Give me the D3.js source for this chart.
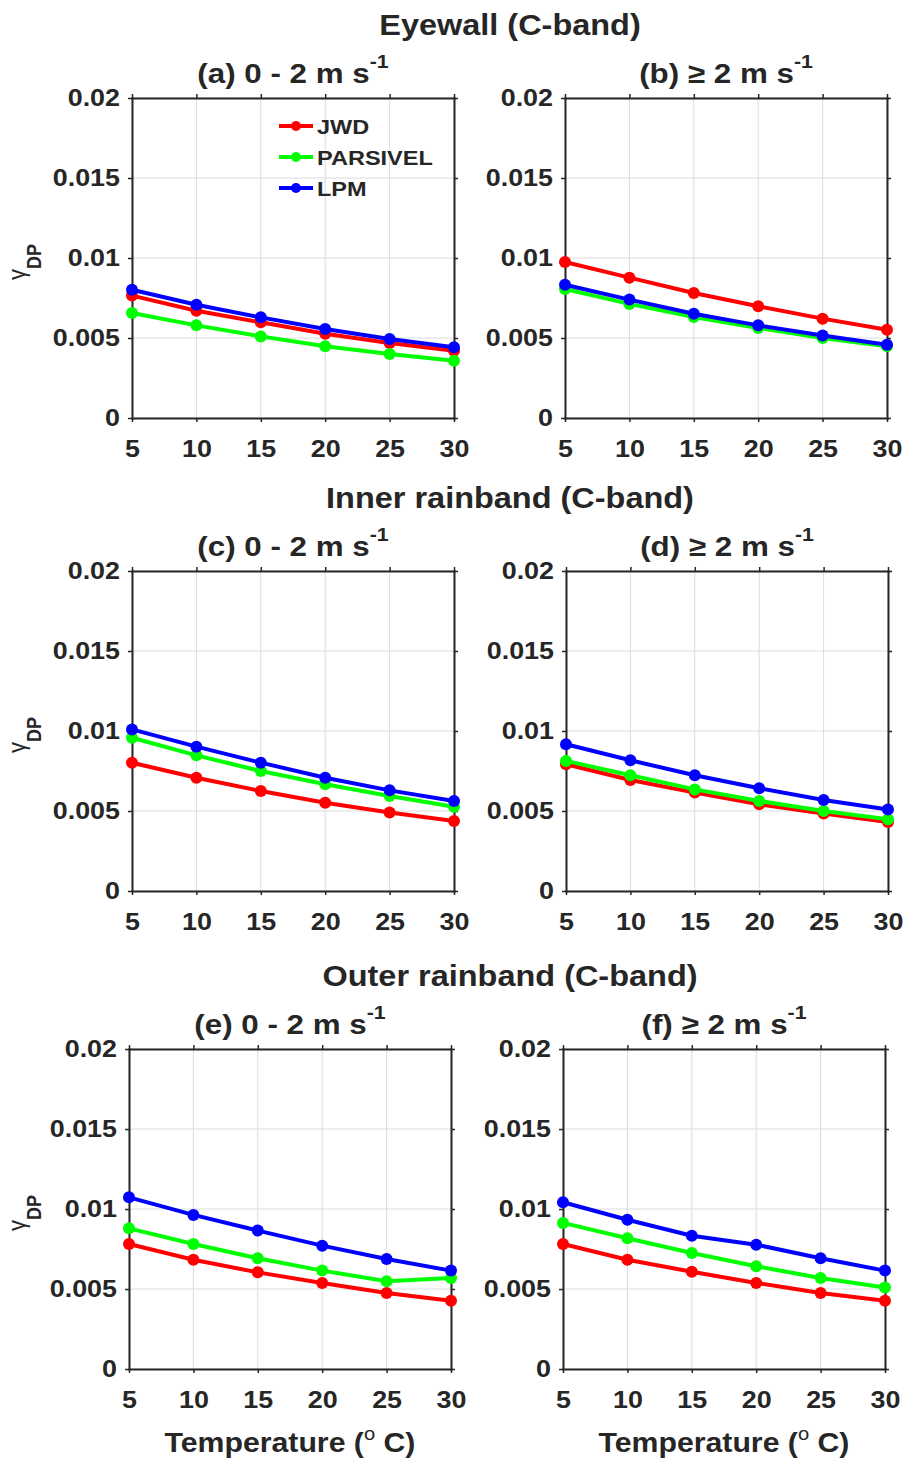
<!DOCTYPE html>
<html lang="en">

<head>
    <meta charset="UTF-8">
    <title>gamma_DP vs temperature</title>
    <script src="https://d3js.org/d3.v7.min.js"></script>
    <style>
        body { margin: 0; background: #fff; }
        svg text { font-family: Arial, "Liberation Sans", sans-serif; fill: #262626; }
    </style>
</head>

<body>
    <div class="canvas"></div>

    <script>
        // x values (temperature, deg C) and y ticks
        const temps = [5, 10, 15, 20, 25, 30];
        const yTicks = [0, 0.005, 0.01, 0.015, 0.02];
        const yTickLabels = ["0", "0.005", "0.01", "0.015", "0.02"];
        const seriesNames = ["JWD", "PARSIVEL", "LPM"];
        const seriesColors = ["#ff0000", "#00ff00", "#0000ff"];
        const rowTitles = ["Eyewall (C-band)", "Inner rainband (C-band)", "Outer rainband (C-band)"];

        // (a) eyewall 0-2 m/s
        const jwdA = [0.00765, 0.0067, 0.00598, 0.00527, 0.00469, 0.0042];
        const parA = [0.00656, 0.00579, 0.0051, 0.00448, 0.004, 0.00358];
        const lpmA = [0.00802, 0.00708, 0.00629, 0.00556, 0.00494, 0.00442];
        // (b) eyewall >= 2 m/s
        const jwdB = [0.00975, 0.00877, 0.00781, 0.00698, 0.00621, 0.00552];
        const parB = [0.00806, 0.00713, 0.00631, 0.00563, 0.005, 0.00448];
        const lpmB = [0.00833, 0.0074, 0.00652, 0.00579, 0.00515, 0.00458];
        // (c) inner rainband 0-2 m/s
        const jwdC = [0.00802, 0.00708, 0.00625, 0.00552, 0.0049, 0.00438];
        const parC = [0.00958, 0.00848, 0.0075, 0.00667, 0.00594, 0.00527];
        const lpmC = [0.0101, 0.00902, 0.00802, 0.00708, 0.00629, 0.00563];
        // (d) inner rainband >= 2 m/s
        const jwdD = [0.00792, 0.00694, 0.00615, 0.00542, 0.00485, 0.00431];
        const parD = [0.00813, 0.00723, 0.00635, 0.00563, 0.005, 0.00448];
        const lpmD = [0.00917, 0.00817, 0.00723, 0.00642, 0.00569, 0.0051];
        // (e) outer rainband 0-2 m/s
        const jwdE = [0.00781, 0.00683, 0.00604, 0.00538, 0.00475, 0.00427];
        const parE = [0.00879, 0.00781, 0.00692, 0.00615, 0.00548, 0.00569];
        const lpmE = [0.01073, 0.00963, 0.00865, 0.00771, 0.00688, 0.00615];
        // (f) outer rainband >= 2 m/s
        const jwdF = [0.00781, 0.00683, 0.00608, 0.00538, 0.00475, 0.00427];
        const parF = [0.00913, 0.00817, 0.00725, 0.00642, 0.00569, 0.0051];
        const lpmF = [0.01042, 0.00933, 0.00833, 0.00777, 0.00692, 0.00615];

        const panels = [
            { tag: "(a)", speed: "0 - 2", row: 0, col: 0, values: [jwdA, parA, lpmA] },
            { tag: "(b)", speed: "\u2265 2", row: 0, col: 1, values: [jwdB, parB, lpmB] },
            { tag: "(c)", speed: "0 - 2", row: 1, col: 0, values: [jwdC, parC, lpmC] },
            { tag: "(d)", speed: "\u2265 2", row: 1, col: 1, values: [jwdD, parD, lpmD] },
            { tag: "(e)", speed: "0 - 2", row: 2, col: 0, values: [jwdE, parE, lpmE] },
            { tag: "(f)", speed: "\u2265 2", row: 2, col: 1, values: [jwdF, parF, lpmF] }
        ];

        // layout
        const W = 322, H = 320;
        const sx = 1.12; // text in the figure is a bit wide
        const rowTop = [98, 571, 1049];
        const rowTitleY = [35, 508, 986];
        const colLeft = [[132, 565], [132, 566], [129, 563]];
        const axisColor = "#262626";

        const svg = d3.select(".canvas").append("svg")
            .attr("width", 904)
            .attr("height", 1466);

        const x = d3.scaleLinear().domain([5, 30]).range([0, W]);
        const y = d3.scaleLinear().domain([0, 0.02]).range([H, 0]);
        const line = d3.line()
            .x((d, i) => x(temps[i]))
            .y(d => y(d));

        // row titles
        rowTitles.forEach((t, r) => {
            svg.append("text")
                .attr("transform", `translate(510,${rowTitleY[r]}) scale(${sx},1)`)
                .attr("text-anchor", "middle")
                .attr("font-size", 29)
                .attr("font-weight", "bold")
                .text(t);
        });

        panels.forEach(p => {
            const left = colLeft[p.row][p.col];
            const top = rowTop[p.row];
            const g = svg.append("g").attr("transform", `translate(${left},${top})`);

            // grid
            g.append("g").selectAll("line").data(temps).join("line")
                .attr("x1", d => x(d)).attr("x2", d => x(d))
                .attr("y1", 0).attr("y2", H)
                .attr("stroke", "#dcdcdc").attr("stroke-width", 1);
            g.append("g").selectAll("line").data(yTicks).join("line")
                .attr("x1", 0).attr("x2", W)
                .attr("y1", d => y(d)).attr("y2", d => y(d))
                .attr("stroke", "#dcdcdc").attr("stroke-width", 1);

            // axes (box with outward ticks)
            g.append("g").attr("transform", `translate(0,${H})`)
                .call(d3.axisBottom(x).tickValues(temps).tickSize(4).tickSizeOuter(0).tickPadding(18));
            const axL = g.append("g")
                .call(d3.axisLeft(y).tickValues(yTicks).tickFormat((d, i) => yTickLabels[i])
                    .tickSize(4).tickSizeOuter(0).tickPadding(8));
            g.append("g")
                .call(d3.axisTop(x).tickValues(temps).tickSize(4).tickSizeOuter(0).tickFormat(""));
            g.append("g").attr("transform", `translate(${W},0)`)
                .call(d3.axisRight(y).tickValues(yTicks).tickSize(4).tickSizeOuter(0).tickFormat(""));

            g.selectAll(".domain").attr("stroke", axisColor).attr("stroke-width", 2).attr("stroke-linecap", "square");
            g.selectAll(".tick line").attr("stroke", axisColor).attr("stroke-width", 1.5);
            g.selectAll(".tick text")
                .attr("font-size", 24)
                .attr("font-weight", "bold")
                .attr("fill", axisColor)
                .attr("transform", `scale(${sx},1)`);
            axL.selectAll(".tick text").attr("x", -12 / sx);

            // series
            p.values.forEach((vals, k) => {
                g.append("path")
                    .datum(vals)
                    .attr("d", line)
                    .attr("fill", "none")
                    .attr("stroke", seriesColors[k])
                    .attr("stroke-width", 4);
                g.append("g").selectAll("circle").data(vals).join("circle")
                    .attr("cx", (d, i) => x(temps[i]))
                    .attr("cy", d => y(d))
                    .attr("r", 6)
                    .attr("fill", seriesColors[k]);
            });

            // panel subtitle
            const st = svg.append("text")
                .attr("transform", `translate(${left + W / 2},${top - 15}) scale(${sx},1)`)
                .attr("text-anchor", "middle")
                .attr("font-size", 28)
                .attr("font-weight", "bold");
            st.append("tspan").text(`${p.tag} ${p.speed} m s`);
            st.append("tspan").attr("font-size", 19).attr("dy", -15).text("-1");

            // y label on left column
            if (p.col === 0) {
                const yl = svg.append("text")
                    .attr("transform", `translate(25,${top + H / 2 + 4}) scale(${sx},1) rotate(-90)`)
                    .attr("text-anchor", "middle");
                yl.append("tspan").attr("font-size", 22).text("\u03b3");
                yl.append("tspan").attr("font-size", 18).attr("font-weight", "bold").attr("dy", 14).text("DP");
            }

            // x label on last row
            if (p.row === 2) {
                const xl = svg.append("text")
                    .attr("transform", `translate(${left + W / 2},1452) scale(${sx},1)`)
                    .attr("text-anchor", "middle")
                    .attr("font-size", 27)
                    .attr("font-weight", "bold");
                xl.append("tspan").text("Temperature (");
                xl.append("tspan").attr("font-size", 18).attr("font-weight", "normal").attr("dy", -12).text("o");
                xl.append("tspan").attr("dy", 12).text(" C)");
            }

            // legend in panel (a)
            if (p.tag === "(a)") {
                const lg = g.append("g").attr("class", "legend");
                seriesNames.forEach((name, k) => {
                    const ly = 28 + k * 31;
                    lg.append("line")
                        .attr("x1", 147).attr("x2", 181)
                        .attr("y1", ly).attr("y2", ly)
                        .attr("stroke", seriesColors[k]).attr("stroke-width", 4);
                    lg.append("circle")
                        .attr("cx", 164).attr("cy", ly).attr("r", 5)
                        .attr("fill", seriesColors[k]);
                    lg.append("text")
                        .attr("transform", `translate(185,${ly}) scale(${sx},1)`)
                        .attr("dy", "0.36em")
                        .attr("font-size", 21)
                        .attr("font-weight", "bold")
                        .attr("fill", "#000")
                        .text(name);
                });
            }
        });
    </script>
</body>

</html>
